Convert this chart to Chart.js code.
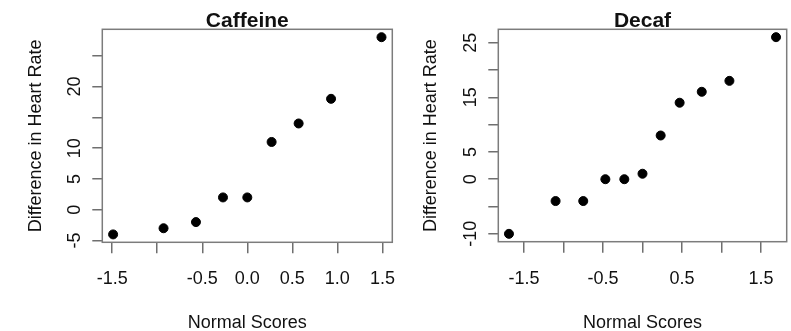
<!DOCTYPE html>
<html>
<head>
<meta charset="utf-8">
<script src="https://cdn.jsdelivr.net/npm/chart.js@4.4.1/dist/chart.umd.min.js"></script>
<style>
  html, body { margin: 0; padding: 0; background: #fff; }
  #left { position: absolute; left: 0; top: 0; }
  #right { position: absolute; left: 395px; top: 0; }
</style>
</head>
<body>
<canvas id="left" width="395" height="331"></canvas>
<canvas id="right" width="396" height="331"></canvas>
<script>
// normal scores (x) and differences in heart rate (y)
const caffeineScores = [-1.49, -0.93, -0.57, -0.27, 0, 0.27, 0.57, 0.93, 1.49];
const caffeineDiff = [-4, -3, -2, 2, 2, 11, 14, 18, 28];
const decafScores = [-1.69, -1.10, -0.75, -0.47, -0.23, 0, 0.23, 0.47, 0.75, 1.10, 1.69];
const decafDiff = [-10, -4, -4, 0, 0, 1, 8, 14, 16, 18, 26];

// tick positions and the labels that are actually printed
const xTicks = [-1.5, -1.0, -0.5, 0, 0.5, 1.0, 1.5];
const caffeineXLabels = [-1.5, -0.5, 0, 0.5, 1.0, 1.5];
const decafXLabels = [-1.5, -0.5, 0.5, 1.5];
const caffeineYTicks = [-5, 0, 5, 10, 15, 20, 25];
const caffeineYLabels = [-5, 0, 5, 10, 20];
const decafYTicks = [-10, -5, 0, 5, 10, 15, 20, 25];
const decafYLabels = [-10, 0, 5, 15, 25];

const FONT = '"Liberation Sans", Arial, Helvetica, sans-serif';

// box, title, tick labels, axis titles (base R look)
const decor = {
  id: 'decor',
  afterDraw(chart, args, opts) {
    const ctx = chart.ctx, a = chart.chartArea;
    const x = chart.scales.x, y = chart.scales.y;
    const cx = (a.left + a.right) / 2;
    ctx.save();
    ctx.strokeStyle = '#7c7c7c';
    ctx.lineWidth = 1.5;
    ctx.strokeRect(a.left, a.top, a.right - a.left, a.bottom - a.top);

    ctx.fillStyle = '#111';
    ctx.textAlign = 'center';
    ctx.textBaseline = 'alphabetic';
    ctx.font = 'bold 21px ' + FONT;
    ctx.fillText(opts.title, cx, 27);

    ctx.font = '18px ' + FONT;
    opts.xLabels.forEach(function(v) {
      ctx.fillText(v.toFixed(1), x.getPixelForValue(v), 283.5);
    });
    ctx.fillText('Normal Scores', cx, 328);

    opts.yLabels.forEach(function(v) {
      ctx.save();
      ctx.translate(a.left - 22, y.getPixelForValue(v));
      ctx.rotate(-Math.PI / 2);
      ctx.fillText(String(v), 0, 0);
      ctx.restore();
    });
    ctx.save();
    ctx.translate(41, (a.top + a.bottom) / 2);
    ctx.rotate(-Math.PI / 2);
    ctx.fillText('Difference in Heart Rate', 0, 0);
    ctx.restore();
    ctx.restore();
  }
};

function makeChart(id, xs, ys, cfg) {
  const pts = xs.map(function(v, i) { return {x: v, y: ys[i]}; });
  return new Chart(document.getElementById(id), {
    type: 'scatter',
    data: {
      datasets: [{
        data: pts,
        backgroundColor: '#000',
        borderColor: '#000',
        pointRadius: 4.5,
        pointHoverRadius: 4.5
      }]
    },
    options: {
      responsive: false,
      animation: false,
      events: [],
      layout: { autoPadding: false, padding: cfg.padding },
      plugins: {
        legend: { display: false },
        tooltip: { enabled: false },
        decor: { title: cfg.title, xLabels: cfg.xLabels, yLabels: cfg.yLabels }
      },
      scales: {
        x: {
          type: 'linear',
          min: cfg.xMin, max: cfg.xMax,
          afterBuildTicks: function(s) { s.ticks = xTicks.map(function(v) { return {value: v}; }); },
          afterFit: function(s) { s.height = cfg.xHeight; },
          ticks: { display: false },
          border: { display: false },
          grid: { drawOnChartArea: false, drawTicks: true, tickLength: 11, color: '#6f6f6f', lineWidth: 1.5 }
        },
        y: {
          type: 'linear',
          min: cfg.yMin, max: cfg.yMax,
          afterBuildTicks: function(s) { s.ticks = cfg.yTicks.map(function(v) { return {value: v}; }); },
          afterFit: function(s) { s.width = cfg.yWidth; },
          ticks: { display: false },
          border: { display: false },
          grid: { drawOnChartArea: false, drawTicks: true, tickLength: 10, color: '#6f6f6f', lineWidth: 1.5 }
        }
      }
    },
    plugins: [decor]
  });
}

makeChart('left', caffeineScores, caffeineDiff, {
  title: 'Caffeine',
  xLabels: caffeineXLabels, yLabels: caffeineYLabels, yTicks: caffeineYTicks,
  xMin: -1.61, xMax: 1.61, yMin: -5.28, yMax: 29.28,
  padding: { top: 29.3, right: 2.7, bottom: 0, left: 0 },
  yWidth: 102.3, xHeight: 88.7
});

makeChart('right', decafScores, decafDiff, {
  title: 'Decaf',
  xLabels: decafXLabels, yLabels: decafYLabels, yTicks: decafYTicks,
  xMin: -1.825, xMax: 1.825, yMin: -11.44, yMax: 27.44,
  padding: { top: 29.3, right: 4.3, bottom: 0, left: 0 },
  yWidth: 103.3, xHeight: 89.3
});
</script>
</body>
</html>
